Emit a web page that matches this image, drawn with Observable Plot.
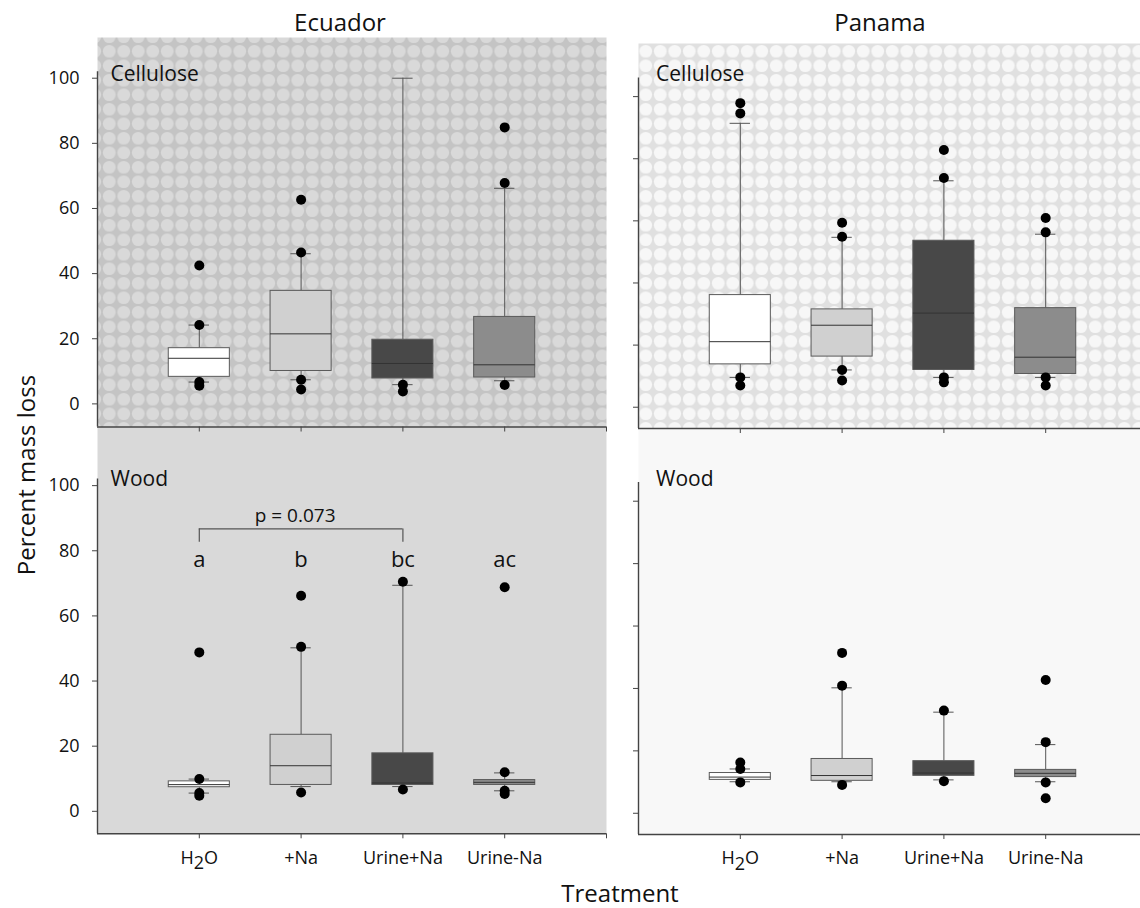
<!DOCTYPE html>
<html><head><meta charset="utf-8">
<script src="https://cdn.jsdelivr.net/npm/d3@7"></script>
<script src="https://cdn.jsdelivr.net/npm/@observablehq/plot@0.6"></script>
<style>
body{margin:0;background:#ffffff;}
#chart{position:relative;width:1140px;height:908px;overflow:hidden;font-family:"Open Sans",sans-serif;color:#111;}
</style></head><body>
<div id="chart">
<svg width="0" height="0" style="position:absolute;left:0;top:0">
<defs>
<pattern id="patEC" patternUnits="userSpaceOnUse" width="14.5" height="14.5">
<rect width="14.5" height="14.5" fill="#c4c4c4"/><circle cx="7.25" cy="7.25" r="6.4" fill="#d9d9d9"/>
</pattern>
<pattern id="patPC" patternUnits="userSpaceOnUse" width="14.5" height="14.5">
<rect width="14.5" height="14.5" fill="#e0e0e0"/><circle cx="7.25" cy="7.25" r="6.4" fill="#f7f7f7"/>
</pattern>
</defs>
</svg>
</div>
<script>
// ---- data ----
const treatments = ["H2O", "+Na", "Urine+Na", "Urine-Na"];
const sites = ["Ecuador", "Panama"];
const substrates = ["Cellulose", "Wood"];
const yTicks = [0, 20, 40, 60, 80, 100];
const xTickLabel = "Treatment";
const yTickTitle = "Percent mass loss";

// box statistics: lo/hi = whisker ends, q1/q3 = box, med = median, out = plotted points
const ecuadorCellulose = [
  {lo: 6.7, q1: 8.3, med: 14.0, q3: 17.1, hi: 24.2, out: [42.5, 24.2, 6.7, 5.6]},
  {lo: 7.4, q1: 10.1, med: 21.5, q3: 34.7, hi: 46.1, out: [62.7, 46.5, 7.4, 4.4]},
  {lo: 5.9, q1: 7.8, med: 12.4, q3: 19.7, hi: 100, out: [5.9, 3.8]},
  {lo: 7.1, q1: 8.1, med: 12.0, q3: 26.7, hi: 66.2, out: [84.9, 67.8, 5.8]}
];
const ecuadorWood = [
  {lo: 5.6, q1: 7.4, med: 8.2, q3: 9.2, hi: 9.9, out: [48.8, 9.9, 5.6, 4.8]},
  {lo: 7.6, q1: 8.1, med: 14.0, q3: 23.5, hi: 50.2, out: [66.2, 50.5, 5.8]},
  {lo: 7.6, q1: 8.1, med: 8.7, q3: 17.8, hi: 69.4, out: [70.5, 6.7]},
  {lo: 6.3, q1: 8.1, med: 8.9, q3: 9.6, hi: 11.8, out: [68.8, 12.0, 6.3, 5.3]}
];
const panamaCellulose = [
  {lo: 9.6, q1: 13.8, med: 21.1, q3: 36.1, hi: 91.4, out: [97.9, 94.6, 9.6, 7.0]},
  {lo: 12.0, q1: 16.3, med: 26.4, q3: 31.5, hi: 54.7, out: [59.4, 54.9, 12.0, 8.6]},
  {lo: 9.6, q1: 12.0, med: 30.3, q3: 53.6, hi: 72.9, out: [82.8, 73.8, 9.6, 8.0]},
  {lo: 9.6, q1: 10.7, med: 16.1, q3: 31.9, hi: 55.7, out: [60.9, 56.3, 9.6, 7.0]}
];
const panamaWood = [
  {lo: 10.1, q1: 10.7, med: 11.6, q3: 12.9, hi: 14.2, out: [16.3, 14.2, 9.9]},
  {lo: 10.1, q1: 10.4, med: 12.1, q3: 17.4, hi: 40.2, out: [51.4, 40.9, 9.1]},
  {lo: 10.7, q1: 12.0, med: 12.9, q3: 16.7, hi: 32.4, out: [32.9, 10.3]},
  {lo: 10.1, q1: 11.6, med: 12.8, q3: 13.9, hi: 22.0, out: [42.7, 22.8, 9.9, 4.8]}
];
// significance annotations (Ecuador wood)
const woodLetters = ["a", "b", "bc", "ac"];
const letterLevel = 75;
const pValueText = "p = 0.073";
const bracketEnds = [1, 3];
const bracketLevel = 86.7;
const bracketDrop = 82.6;
const pValueLevel = 88.8;

// ---- styles ----
const boxFills = ["#ffffff", "#d0d0d0", "#484848", "#8c8c8c"];
const W = 1160, H = 908;
const chart = document.getElementById("chart");

function panel(o) {
  const rows = o.rows.map((r, k) => ({...r, i: k + 1, fill: boxFills[k]}));
  const pts = rows.flatMap(d => d.out.map(v => ({i: d.i, v})));
  const marks = [
    Plot.frame({fill: o.bg, stroke: "none"}),
    Plot.ruleX(rows, {x: "i", y1: "q3", y2: "hi", stroke: "#555", strokeWidth: 1}),
    Plot.ruleX(rows, {x: "i", y1: "lo", y2: "q1", stroke: "#555", strokeWidth: 1}),
    Plot.ruleY(rows, {y: "hi", x1: d => d.i - 0.1, x2: d => d.i + 0.1, stroke: "#555", strokeWidth: 1}),
    Plot.ruleY(rows, {y: "lo", x1: d => d.i - 0.1, x2: d => d.i + 0.1, stroke: "#555", strokeWidth: 1}),
    Plot.rect(rows, {x1: d => d.i - 0.3, x2: d => d.i + 0.3, y1: "q1", y2: "q3", fill: "fill", stroke: "#5a5a5a", strokeWidth: 1}),
    Plot.ruleY(rows, {y: "med", x1: d => d.i - 0.3, x2: d => d.i + 0.3, stroke: "#333", strokeWidth: 1}),
    Plot.dot(pts, {x: "i", y: "v", r: 5, fill: "#000", stroke: "none"}),
    Plot.ruleX([0], {y1: o.yDomain[0], y2: o.axisTop, stroke: "#444", strokeWidth: 1.4}),
    Plot.ruleY([o.yDomain[0]], {x1: 0, x2: 5, stroke: "#444", strokeWidth: 1.4}),
    Plot.axisY({ticks: yTicks, tickSize: 5, tickPadding: 13, fontSize: 18, label: null, stroke: "#444",
      tickFormat: o.yLabels ? (d => String(d)) : (() => "")}),
    Plot.axisX({ticks: [1, 2, 3, 4, 5], tickSize: 5, tickPadding: 12, fontSize: 18, label: null, stroke: "#444",
      tickFormat: o.xLabels ? (d => treatments[d - 1] ?? "") : (() => "")}),
    Plot.text([o.name], {frameAnchor: "top-left", dx: o.nameDx, dy: o.nameDy, fontSize: 21, lineAnchor: "bottom", fill: "#111"})
  ];
  if (o.annotate) {
    marks.push(
      Plot.text(woodLetters, {x: (d, k) => k + 1, y: letterLevel, text: d => d, fontSize: 22, lineAnchor: "bottom", fill: "#111"}),
      Plot.ruleY([bracketLevel], {x1: bracketEnds[0], x2: bracketEnds[1], stroke: "#555", strokeWidth: 1.2}),
      Plot.ruleX(bracketEnds, {x: d => d, y1: bracketDrop, y2: bracketLevel, stroke: "#555", strokeWidth: 1.2}),
      Plot.text([pValueText], {x: (bracketEnds[0] + bracketEnds[1]) / 2, y: pValueLevel, dx: -6, fontSize: 19, lineAnchor: "bottom", fill: "#111"})
    );
  }
  const svg = Plot.plot({
    width: W, height: H,
    marginLeft: o.left, marginRight: W - o.right, marginTop: o.top, marginBottom: H - o.bottom,
    x: {domain: [0, 5]},
    y: {domain: o.yDomain},
    color: {type: "identity"},
    style: {position: "absolute", left: "0px", top: "0px", background: "transparent", overflow: "visible",
      maxWidth: "none", fontFamily: "'Open Sans', sans-serif", color: "#111"},
    marks
  });
  // lowered "2" in H2O tick labels
  d3.select(svg).selectAll("text").filter(function() { return this.textContent === "H2O"; }).each(function() {
    const t = d3.select(this);
    t.text("");
    t.append("tspan").text("H");
    t.append("tspan").attr("dy", "0.32em").text("2");
    t.append("tspan").attr("dy", "-0.32em").text("O");
  });
  chart.appendChild(svg);
}

// bottom panels first so the upper panels' ticks sit on top
panel({rows: ecuadorWood, bg: "#d9d9d9", left: 97, right: 606, top: 426.5, bottom: 833.3,
  yDomain: [-6.9, 118.0], axisTop: 102, yLabels: true, xLabels: true, name: substrates[1], nameDx: 13, nameDy: 59, annotate: true});
panel({rows: panamaWood, bg: "#f8f8f8", left: 638, right: 1147, top: 428, bottom: 834,
  yDomain: [-6.8, 123.3], axisTop: 106, yLabels: false, xLabels: true, name: substrates[1], nameDx: 17.6, nameDy: 57.7});
panel({rows: ecuadorCellulose, bg: "url(#patEC)", left: 97, right: 606, top: 37, bottom: 426.5,
  yDomain: [-7.1, 112.5], axisTop: 102, yLabels: true, xLabels: false, name: substrates[0], nameDx: 13, nameDy: 43});
panel({rows: panamaCellulose, bg: "url(#patPC)", left: 638, right: 1147, top: 43, bottom: 428,
  yDomain: [-6.85, 117.1], axisTop: 106, yLabels: false, xLabels: false, name: substrates[0], nameDx: 17.6, nameDy: 37});

// titles
const ov = d3.select(chart).append("svg")
  .attr("width", 1140).attr("height", 908)
  .style("position", "absolute").style("left", "0px").style("top", "0px")
  .style("font-family", "'Open Sans', sans-serif").style("pointer-events", "none");
ov.append("text").attr("x", 340).attr("y", 31).attr("text-anchor", "middle").attr("font-size", 24).attr("fill", "#111").text(sites[0]);
ov.append("text").attr("x", 880).attr("y", 31).attr("text-anchor", "middle").attr("font-size", 24).attr("fill", "#111").text(sites[1]);
ov.append("text").attr("x", 620).attr("y", 902).attr("text-anchor", "middle").attr("font-size", 24).attr("fill", "#111").text(xTickLabel);
ov.append("text").attr("transform", "translate(35,475) rotate(-90)").attr("text-anchor", "middle").attr("font-size", 24).attr("fill", "#111").text(yTickTitle);
</script>
</body></html>
